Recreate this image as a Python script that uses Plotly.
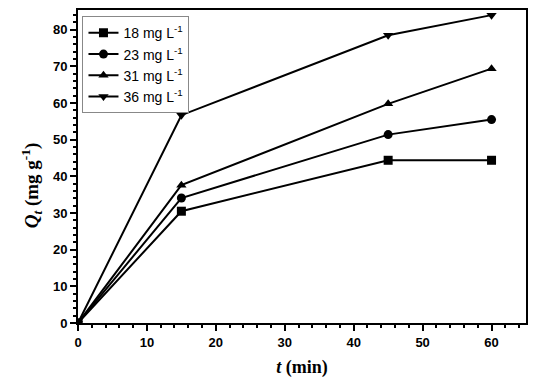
import plotly.graph_objects as go

time_min = [0, 15, 45, 60]
series_names = ["18 mg L<sup>-1</sup>", "23 mg L<sup>-1</sup>", "31 mg L<sup>-1</sup>", "36 mg L<sup>-1</sup>"]
q18 = [0, 30.5, 44.4, 44.4]
q23 = [0, 34.1, 51.4, 55.5]
q31 = [0, 37.6, 59.8, 69.4]
q36 = [0, 56.7, 78.5, 84.0]
symbols = ["square", "circle", "triangle-up", "triangle-down"]

fig = go.Figure()
for name, ys, sym in zip(series_names, [q18, q23, q31, q36], symbols):
    fig.add_trace(go.Scatter(
        x=time_min, y=ys, name=name, mode="lines+markers",
        line=dict(color="black", width=2),
        marker=dict(symbol=sym, size=9, color="black"),
    ))

axis_common = dict(
    showline=True, linecolor="black", linewidth=2, mirror=True,
    ticks="outside", tickwidth=2, ticklen=6, tickcolor="black",
    showgrid=False, zeroline=False, automargin=False,
    tickfont=dict(family="Arial", size=13, color="black", weight="bold"),
    minor=dict(ticks="outside", ticklen=3, tickwidth=2, tickcolor="black"),
)

title_font = dict(family="Times New Roman, Liberation Serif", size=18, color="black")
fig.update_xaxes(range=[0, 65], dtick=10, **axis_common,
                 title=dict(text="<b><i>t</i> (min)</b>", font=title_font, standoff=12))
fig.update_yaxes(range=[0, 85.4], dtick=10, **axis_common)

fig.add_annotation(
    text="<b><i>Q<sub>t</sub></i> (mg g<sup>-1</sup>)</b>",
    xref="paper", yref="paper", x=0, y=0.44, xshift=-47,
    xanchor="center", yanchor="middle", textangle=-90, showarrow=False,
    font=dict(family="Times New Roman, Liberation Serif", size=19, color="black"),
)

fig.update_layout(
    width=521, height=374,
    margin=dict(l=70, r=3, t=2, b=59),
    plot_bgcolor="white", paper_bgcolor="white",
    legend=dict(x=0.01, y=0.98, xanchor="left", yanchor="top",
                bordercolor="#888", borderwidth=1, bgcolor="white",
                font=dict(family="Arial", size=14, color="black"),
                tracegroupgap=0, itemwidth=30),
    showlegend=True,
)

fig.write_html("out.html")
